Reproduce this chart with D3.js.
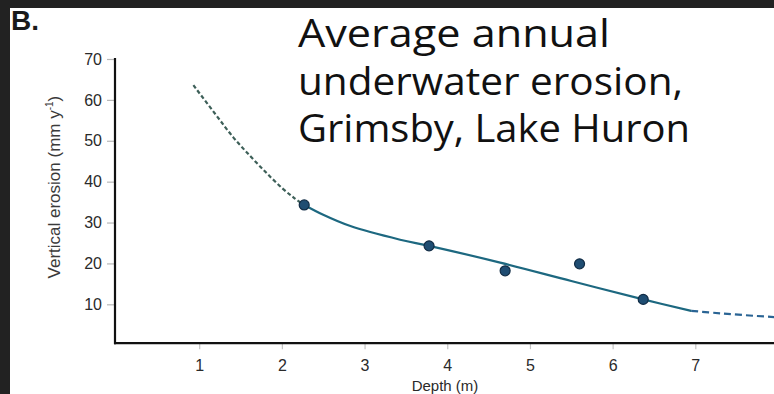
<!DOCTYPE html>
<html>
<head>
<meta charset="utf-8">
<script src="https://cdn.jsdelivr.net/npm/d3@7"></script>
<style>
  html, body { margin: 0; padding: 0; background: #fff; }
  svg { display: block; }
</style>
</head>
<body>
<svg id="chart" width="774" height="394"></svg>
<script>
// ---- data ----
const depthTicks = [1, 2, 3, 4, 5, 6, 7, 8];
const erosionTicks = [10, 20, 30, 40, 50, 60, 70];

const obsDepth   = [2.27, 3.78, 4.70, 5.60, 6.37];
const obsErosion = [34.3, 24.3, 18.2, 19.9, 11.2];

const extrapLeftDepth   = [0.93, 1.2, 1.41, 1.62, 1.82, 2.01, 2.15, 2.27];
const extrapLeftErosion = [63.6, 56.4, 50.9, 46.2, 42.0, 38.3, 36.0, 34.3];

const fitDepth   = [2.27, 2.5, 2.82, 3.43, 3.78, 4.64, 5.5, 6.37, 6.95];
const fitErosion = [34.3, 31.9, 29.2, 25.8, 24.3, 20.2, 15.7, 11.2, 8.4];

const extrapRightDepth   = [6.95, 7.3, 7.7, 8.1];
const extrapRightErosion = [8.4, 7.8, 7.2, 6.7];

const titleLines = ["Average annual", "underwater erosion,", "Grimsby, Lake Huron"];

// ---- drawing ----
const svg = d3.select("#chart");
const W = 774, H = 394;

const x = d3.scaleLinear().domain([0, 8]).range([116.5, 778]);
const y = d3.scaleLinear().domain([0, 70]).range([345.2, 59]);

const tickFont = "'Liberation Sans', Arial, sans-serif";

// y axis
const yAxis = svg.append("g")
  .attr("transform", `translate(${x(0) - 1.5},0)`)
  .call(d3.axisLeft(y).tickValues(erosionTicks).tickSize(8).tickPadding(5));
yAxis.select(".domain").remove();
yAxis.selectAll(".tick line").attr("stroke", "#b8b8b8").attr("stroke-width", 1.2);
yAxis.selectAll(".tick text").attr("font-family", tickFont).attr("font-size", 16).attr("fill", "#2a2a2a");

// x axis
const xAxis = svg.append("g")
  .attr("transform", `translate(0,${y(0.5)})`)
  .call(d3.axisBottom(x).tickValues(depthTicks).tickFormat(d3.format("d")).tickSize(6).tickPadding(10));
xAxis.select(".domain").remove();
xAxis.selectAll(".tick line").attr("stroke", "#c4c4c4").attr("stroke-width", 1.2);
xAxis.selectAll(".tick text").attr("font-family", tickFont).attr("font-size", 16).attr("fill", "#2a2a2a");

// axis lines
svg.append("line")
  .attr("x1", x(0) - 1.5).attr("x2", x(0) - 1.5)
  .attr("y1", y(70) - 1).attr("y2", y(0.5) + 1)
  .attr("stroke", "#111").attr("stroke-width", 2.2);
svg.append("line")
  .attr("x1", x(0) - 2.5).attr("x2", W)
  .attr("y1", y(0.5)).attr("y2", y(0.5))
  .attr("stroke", "#111").attr("stroke-width", 2.2);

// axis titles
svg.append("text")
  .attr("transform", `translate(60,${(y(70) + y(0)) / 2 - 15}) rotate(-90)`)
  .attr("text-anchor", "middle")
  .attr("font-family", tickFont).attr("font-size", 17).attr("fill", "#3a3a3a")
  .call(t => {
    t.append("tspan").text("Vertical erosion (mm y");
    t.append("tspan").attr("font-size", 10).attr("dy", -7).text("-1");
    t.append("tspan").attr("dy", 7).text(")");
  });

svg.append("text")
  .attr("x", 445).attr("y", 391)
  .attr("text-anchor", "middle")
  .attr("font-family", tickFont).attr("font-size", 15).attr("fill", "#2a2a2a")
  .text("Depth (m)");

// curves
const line = d3.line().x(d => x(d[0])).y(d => y(d[1])).curve(d3.curveCatmullRom.alpha(0.5));
const zip = (a, b) => a.map((v, i) => [v, b[i]]);

svg.append("path")
  .attr("d", line(zip(extrapLeftDepth, extrapLeftErosion)))
  .attr("fill", "none").attr("stroke", "#3d5f58").attr("stroke-width", 2.2)
  .attr("stroke-dasharray", "4,2.5");

svg.append("path")
  .attr("d", line(zip(fitDepth, fitErosion)))
  .attr("fill", "none").attr("stroke", "#1d6880").attr("stroke-width", 2.2);

svg.append("path")
  .attr("d", line(zip(extrapRightDepth, extrapRightErosion)))
  .attr("fill", "none").attr("stroke", "#2a6494").attr("stroke-width", 2.2)
  .attr("stroke-dasharray", "7,4");

// points
svg.append("g").selectAll("circle")
  .data(zip(obsDepth, obsErosion))
  .join("circle")
  .attr("cx", d => x(d[0])).attr("cy", d => y(d[1]))
  .attr("r", 5)
  .attr("fill", "#1f4d72").attr("stroke", "#112c45").attr("stroke-width", 1.2);

// dark frame bands
svg.append("rect").attr("x", 0).attr("y", 0).attr("width", W).attr("height", 8).attr("fill", "#222");
svg.append("rect").attr("x", 0).attr("y", 0).attr("width", 10).attr("height", H).attr("fill", "#222");

// panel label
svg.append("text")
  .attr("x", 11).attr("y", 30)
  .attr("font-family", tickFont).attr("font-weight", "bold").attr("font-size", 28).attr("fill", "#1a1a1a")
  .text("B.");

// title
const titleBase = [47, 94.5, 142];
const titleLen = [312, 385, 392];
svg.append("g").selectAll("text")
  .data(titleLines)
  .join("text")
  .attr("x", 298).attr("y", (d, i) => titleBase[i])
  .attr("font-family", "'Open Sans', 'DejaVu Sans', sans-serif")
  .attr("font-size", 38).attr("fill", "#111")
  .attr("textLength", (d, i) => titleLen[i])
  .attr("lengthAdjust", "spacingAndGlyphs")
  .text(d => d);
</script>
</body>
</html>
